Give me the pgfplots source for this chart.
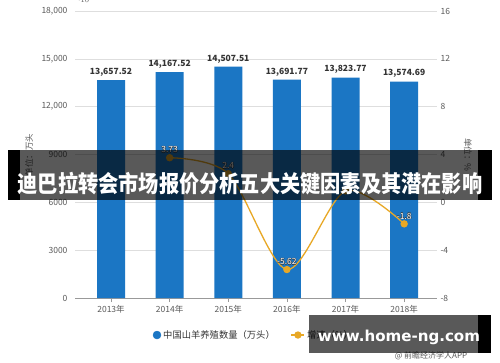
\documentclass[border=0pt]{standalone}
\usepackage{pgfplots}
\pgfplotsset{compat=1.18}
\usepackage{pgfplotstable}
\usepackage{fontspec}
\setmainfont{Noto Sans CJK SC}
\newfontfamily\wmfont{DejaVu Sans}
\definecolor{barblue}{HTML}{1B76C4}
\definecolor{gold}{HTML}{E8A826}
\definecolor{tk}{HTML}{595959}
\definecolor{dk}{HTML}{3A3A3A}
\newcommand{\outl}[1]{{\rlap{\color{dk}\kern0.5pt#1}\rlap{\color{dk}\kern-0.5pt#1}\rlap{\color{dk}\raisebox{0.5pt}{#1}}\rlap{\color{dk}\raisebox{-0.5pt}{#1}}\color{white}#1}}

\pgfplotstableread{
x y lab
0 13657.52 13,657.52
1 14167.52 14,167.52
2 14507.51 14,507.51
3 13691.77 13,691.77
4 13823.77 13,823.77
5 13574.69 13,574.69
}\bars

\pgfplotstableread{
x y lab
1 3.73 3.73
2 2.4 2.4
3 -5.62 -5.62
4 0.96 {}
5 -1.8 -1.8
}\growth

\begin{document}
\begin{tikzpicture}
\fill[white] (0,0) rectangle (500pt,362pt);
\path[use as bounding box] (0,0) rectangle (500pt,362pt);

\begin{axis}[
  at={(75pt,64pt)}, anchor=south west, scale only axis,
  width=362pt, height=287pt,
  xmin=-0.614, xmax=5.56, ymin=0, ymax=18000,
  axis x line*=bottom, axis y line*=left,
  y axis line style={draw=none},
  x axis line style={draw=black!40, line width=0.8pt, -},
  ytick={0,3000,...,18000},
  yticklabels={0,3000,6000,9000,{12,000},{15,000},{18,000}},
  ymajorgrids, grid style={draw=black!13, line width=0.6pt},
  major y tick style={draw=none},
  xtick={0,...,5},
  xticklabels={2013年,2014年,2015年,2016年,2017年,2018年},
  major x tick style={draw=black!40, line width=0.6pt},
  major tick length=4pt, tick align=outside,
  yticklabel style={font=\fontsize{8.5}{10}\selectfont, text=tk, inner ysep=0pt},
  xticklabel style={font=\fontsize{8.5}{10}\selectfont, text=tk},
  /pgf/number format/assume math mode=true,
]
\addplot[ybar, fill=barblue, draw=none, bar width=28pt,
  point meta=explicit symbolic, nodes near coords,
  nodes near coords style={font=\fontsize{8.5}{10}\selectfont\bfseries, text=black!80, anchor=south, inner sep=1.5pt, yshift=2pt}]
  table[x=x,y=y,meta=lab]{\bars};
\end{axis}

\begin{axis}[
  at={(75pt,64pt)}, anchor=south west, scale only axis,
  width=362pt, height=287pt,
  xmin=-0.614, xmax=5.56, ymin=-8, ymax=16,
  axis x line=none, axis y line*=right,
  y axis line style={draw=none},
  major y tick style={draw=none},
  ytick={-8,-4,...,16},
  yticklabel style={font=\fontsize{8.5}{10}\selectfont, text=tk, inner ysep=0pt},
  /pgf/number format/assume math mode=true,
  legend style={at={(0.494,-0.129)}, anchor=center, draw=none, fill=none,
    legend columns=2, font=\fontsize{9.3}{10}\selectfont, text=black!80,
    /tikz/every even column/.append style={column sep=14pt}},
]
\addlegendimage{legend image code/.code={\fill[barblue] (6pt,0) circle (4pt);}}
\addlegendentry{中国山羊养殖数量（万头）}
\addplot[gold, line width=1.3pt, smooth, mark=*, mark size=3pt,
  mark options={fill=gold, draw=gold},
  point meta=explicit symbolic,
  nodes near coords={\outl{\pgfplotspointmeta}},
  nodes near coords style={font=\fontsize{8.5}{10}\selectfont, anchor=south, inner sep=1.5pt, yshift=2pt},
  legend image code/.code={\draw[gold, line width=1.3pt] (0,0) -- (13pt,0); \fill[gold] (6.5pt,0) circle (3pt);}]
  table[x=x,y=y,meta=lab]{\growth};
\addlegendentry{增速（\%）}
\end{axis}

\node[rotate=90, text=tk, font=\fontsize{8.5}{10}\selectfont] at (29pt,207pt) {单位：万头};
\node[rotate=-90, text=tk, font=\fontsize{8.5}{10}\selectfont] at (468pt,207pt) {单位：\%};

% banner
\fill[black, opacity=0.65] (20pt,162pt) rectangle (478pt,212pt);
\fill[black] (8pt,162pt) rectangle (20pt,212pt);
\fill[black] (478pt,162pt) rectangle (492pt,212pt);
\node[text=white, inner sep=0pt] at (250pt,178.5pt) {\scalebox{1}[1.15]{\fontsize{20.2}{22}\selectfont\bfseries 迪巴拉转会市场报价分析五大关键因素及其潜在影响}};

% watermark
\node[text=tk, font=\fontsize{8}{9}\selectfont, inner sep=0pt] at (431pt,6pt) {@ 前瞻经济学人APP};
\fill[black, opacity=0.65] (309pt,9pt) rectangle (478pt,47pt);
\fill[black] (478pt,9pt) rectangle (491pt,47pt);
\node[text=white, inner sep=0pt] at (399pt,24.5pt) {\resizebox{162pt}{!}{\wmfont\bfseries www.home-ng.com}};
\end{tikzpicture}
\end{document}
